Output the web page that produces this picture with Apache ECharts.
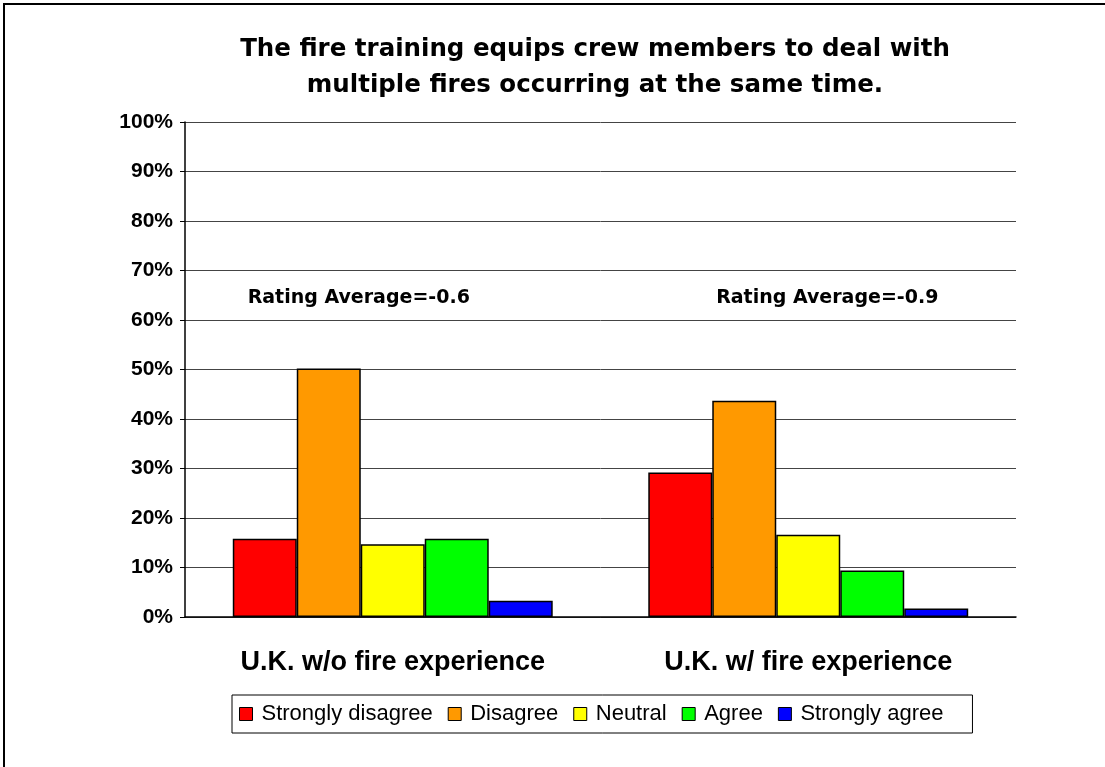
<!DOCTYPE html>
<html>
<head>
<meta charset="utf-8">
<script src="https://cdn.jsdelivr.net/npm/echarts@6/dist/echarts.min.js"></script>
<style>
  body { margin: 0; background: #fff; }
  #chart { width: 1105px; height: 767px; }
</style>
</head>
<body>
<div id="chart"></div>
<script>
var categories = ['U.K. w/o fire experience', 'U.K. w/ fire experience'];
var seriesNames = ['Strongly disagree', 'Disagree', 'Neutral', 'Agree', 'Strongly agree'];
var seriesColors = ['#ff0000', '#ff9900', '#ffff00', '#00ff00', '#0000ff'];
var stronglyDisagree = [15.8, 29.2];
var disagree = [50.2, 43.7];
var neutral = [14.7, 16.6];
var agree = [15.8, 9.4];
var stronglyAgree = [3.3, 1.7];
var ratingLabels = ['Rating Average=-0.6', 'Rating Average=-0.9'];
var ratingY = [64.4, 64.4];
var yTicks = [0, 100, 10];

var values = [stronglyDisagree, disagree, neutral, agree, stronglyAgree];

var myChart = echarts.init(document.getElementById('chart'));

var series = seriesNames.map(function (name, i) {
  var s = {
    name: name,
    type: 'bar',
    data: values[i],
    barGap: '0%',
    barCategoryGap: '23%',
    itemStyle: {
      color: seriesColors[i],
      borderColor: '#000',
      borderWidth: 1.5
    }
  };
  if (i === 2) {
    // 中间那根柱子正好在组中心，评分文字挂在它上面
    s.markPoint = {
      symbol: 'circle',
      symbolSize: 0,
      data: ratingLabels.map(function (t, j) {
        return {
          coord: [categories[j], ratingY[j]],
          label: {
            show: true,
            formatter: t,
            offset: j === 0 ? [-34, 0] : [19, 0]
          }
        };
      }),
      label: {
        color: '#000',
        fontFamily: 'DejaVu Sans',
        fontWeight: 'bold',
        fontSize: 19
      }
    };
  }
  return s;
});

myChart.setOption({
  animation: false,
  title: {
    text: 'The fire training equips crew members to deal with\nmultiple fires occurring at the same time.',
    left: 590,
    top: 27,
    textAlign: 'center',
    textStyle: {
      fontFamily: 'DejaVu Sans',
      fontWeight: 'bold',
      fontSize: 24.5,
      lineHeight: 36,
      color: '#000'
    }
  },
  legend: {
    data: seriesNames,
    left: 232,
    top: 695,
    padding: [8, 29, 8, 7],
    borderColor: '#000',
    borderWidth: 1,
    itemWidth: 13,
    itemHeight: 13,
    itemGap: 15,
    icon: 'rect',
    itemStyle: { borderColor: '#000', borderWidth: 1 },
    textStyle: {
      fontFamily: 'Liberation Sans',
      fontSize: 22,
      color: '#000',
      padding: [0, 0, 0, 4]
    }
  },
  grid: {
    left: 185,
    right: 89,
    top: 122,
    bottom: 150
  },
  xAxis: {
    type: 'category',
    data: categories,
    axisLine: { lineStyle: { color: '#000', width: 1.5 } },
    axisTick: { inside: true, length: 7, lineStyle: { color: '#000' } },
    axisLabel: {
      margin: 32,
      fontFamily: 'Liberation Sans',
      fontWeight: 'bold',
      fontSize: 27,
      color: '#000'
    }
  },
  yAxis: {
    type: 'value',
    min: yTicks[0],
    max: yTicks[1],
    interval: yTicks[2],
    axisLine: { show: true, lineStyle: { color: '#000', width: 1.5 } },
    axisTick: { show: true, length: 5, lineStyle: { color: '#000' } },
    splitLine: { lineStyle: { color: '#444', width: 1 } },
    axisLabel: {
      formatter: '{value}%',
      margin: 12,
      fontFamily: 'Liberation Sans',
      fontWeight: 'bold',
      fontSize: 21,
      color: '#000'
    }
  },
  graphic: [{
    type: 'rect',
    silent: true,
    shape: { x: 4, y: 4, width: 1300, height: 900 },
    style: { fill: 'none', stroke: '#000', lineWidth: 2 }
  }],
  series: series
});
</script>
</body>
</html>
